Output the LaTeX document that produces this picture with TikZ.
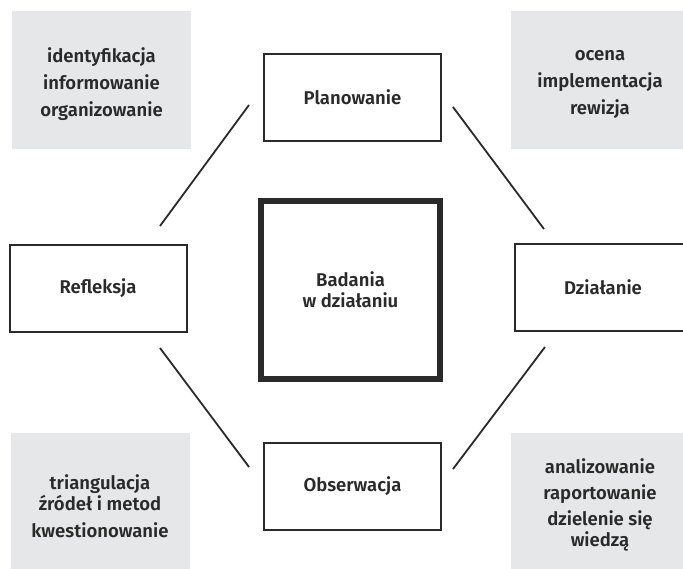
\documentclass[tikz,border=0pt]{standalone}
\usepackage{fontspec}
\setmainfont{Fira Sans}[BoldFont={Fira Sans SemiBold}]
\definecolor{ink}{HTML}{2A2A2A}
\definecolor{panel}{HTML}{E6E7E8}
\begin{document}
\begin{tikzpicture}[x=1pt,y=-1pt,
  lbl/.style={font=\bfseries\fontsize{18.5}{21}\selectfont, text=ink, align=center},
  stagebox/.style={lbl, draw=ink, line width=2pt, fill=white, minimum width=177pt, minimum height=87pt, inner sep=0pt},
  corebox/.style={lbl, draw=ink, line width=6pt, fill=white, minimum width=179pt, minimum height=178pt, inner sep=0pt},
  panelbox/.style={fill=panel, minimum width=179pt, minimum height=138pt, inner sep=0pt},
  paneltext/.style={lbl, yshift=-4pt},
  link/.style={draw=ink, line width=1.8pt}]
\useasboundingbox (0,0) rectangle (683,568);
\clip (0,0) rectangle (683,568);
% grey panels
\node[panelbox, label={[paneltext]center:identyfikacja\\[6pt]informowanie\\[6pt]organizowanie}] (ptl) at (101.5,80) {};
\node[panelbox, label={[paneltext]center:ocena\\[6pt]implementacja\\[6pt]rewizja}] (ptr) at (600,80) {};
\node[panelbox, label={[paneltext]center:triangulacja\\źródeł i metod\\[6pt]kwestionowanie}] (pbl) at (100,502) {};
\node[panelbox, label={[paneltext,yshift=1pt]center:analizowanie\\[5pt]raportowanie\\[5pt]dzielenie się\\wiedzą}] (pbr) at (600,502) {};
% stage boxes
\node[stagebox] (plan) at (352.5,97) {Planowanie};
\node[stagebox] (refl) at (98,288.5) {Refleksja};
\node[stagebox] (dzial) at (603,287) {Działanie};
\node[stagebox] (obs) at (352.5,486) {Obserwacja};
\node[corebox] (core) at (350.5,290) {Badania\\w działaniu};
% connector ends
\coordinate (tl1) at (249,105);
\coordinate (tl2) at (160,226);
\coordinate (tr1) at (453,107);
\coordinate (tr2) at (544,229);
\coordinate (bl1) at (160,348);
\coordinate (bl2) at (249,467);
\coordinate (br1) at (453,469);
\coordinate (br2) at (545,347);
\draw[link] (tl1) -- (tl2);
\draw[link] (tr1) -- (tr2);
\draw[link] (bl1) -- (bl2);
\draw[link] (br1) -- (br2);
\end{tikzpicture}
\end{document}
